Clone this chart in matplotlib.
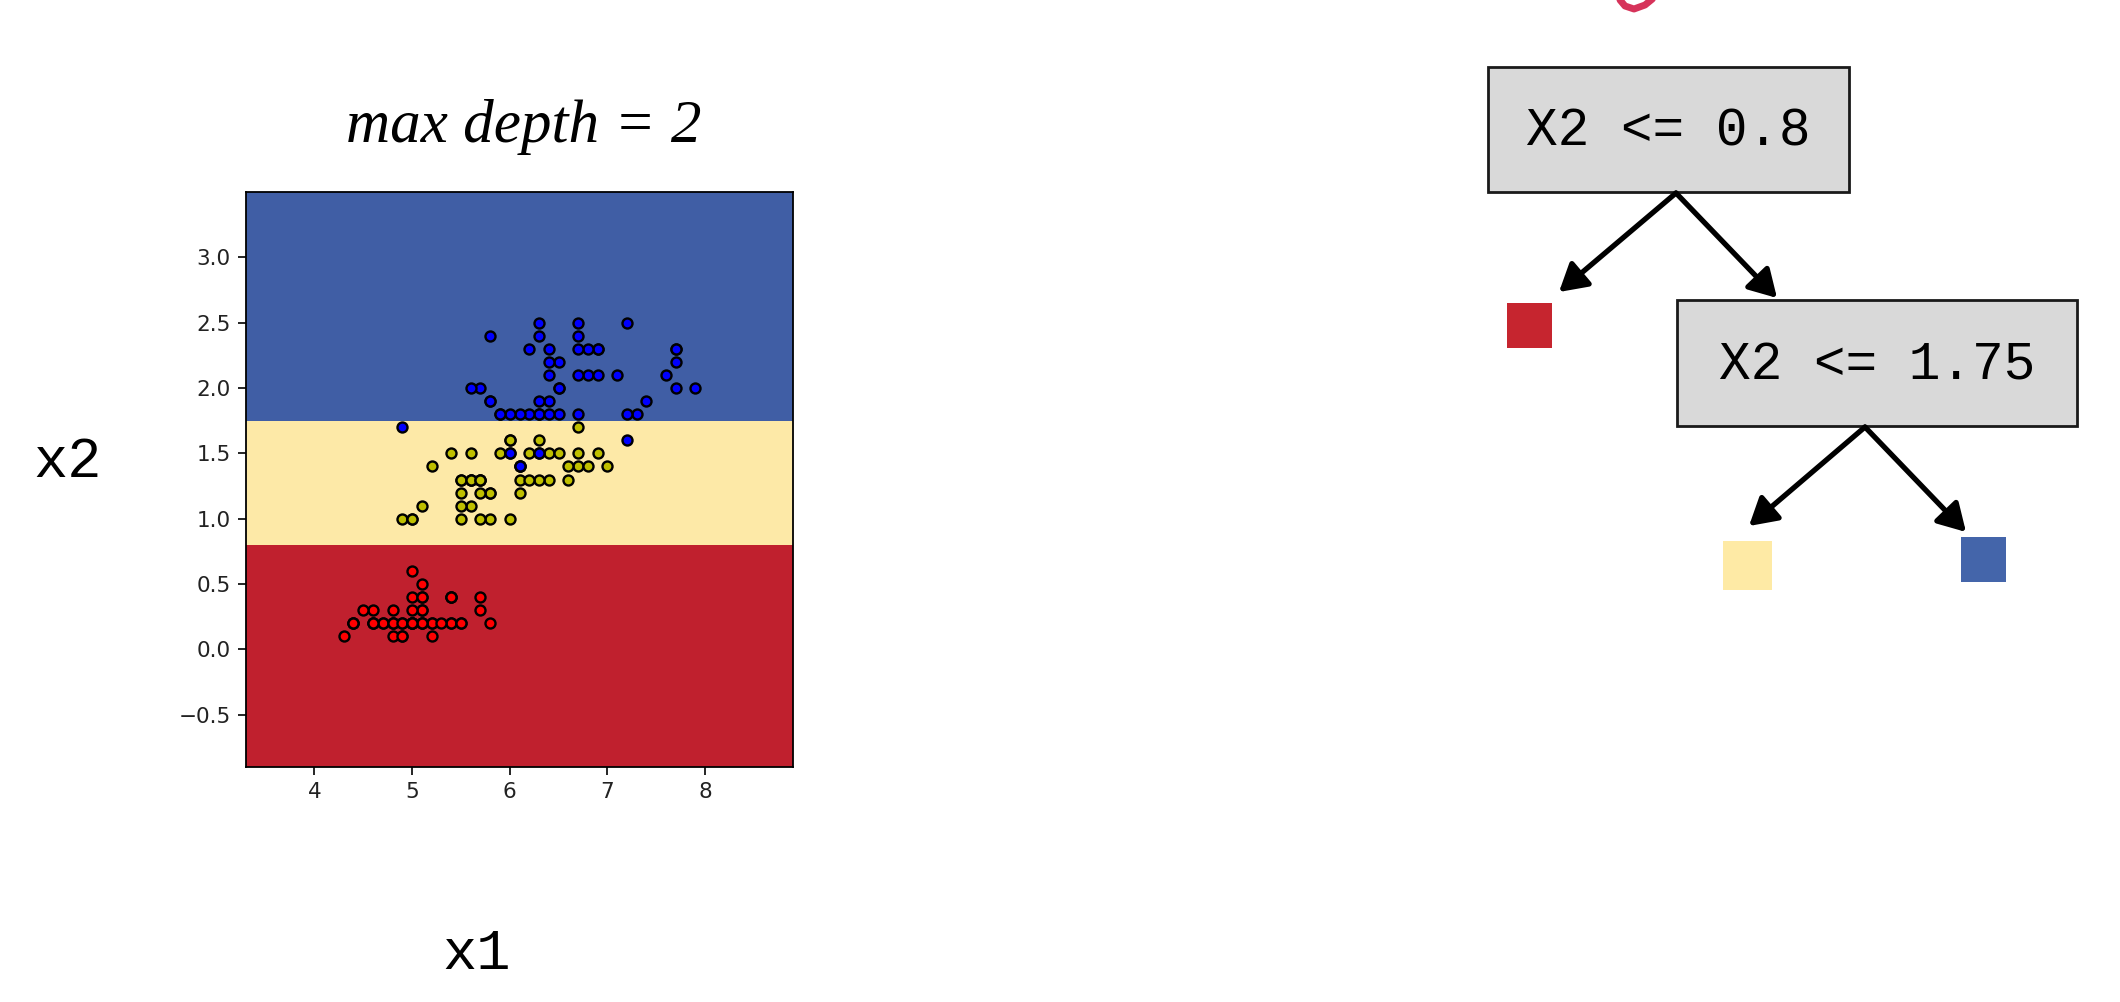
import matplotlib
matplotlib.use("Agg")
import matplotlib.pyplot as plt
import numpy as np
from matplotlib.patches import Rectangle, FancyArrowPatch
from matplotlib.lines import Line2D

# iris: sepal length (x1) vs petal width (x2)
setosa_x1 = [5.1, 4.9, 4.7, 4.6, 5.0, 5.4, 4.6, 5.0, 4.4, 4.9, 5.4, 4.8, 4.8, 4.3, 5.8, 5.7, 5.4,
             5.1, 5.7, 5.1, 5.4, 5.1, 4.6, 5.1, 4.8, 5.0, 5.0, 5.2, 5.2, 4.7, 4.8, 5.4, 5.2, 5.5,
             4.9, 5.0, 5.5, 4.9, 4.4, 5.1, 5.0, 4.5, 4.4, 5.0, 5.1, 4.8, 5.1, 4.6, 5.3, 5.0]
setosa_x2 = [0.2, 0.2, 0.2, 0.2, 0.2, 0.4, 0.3, 0.2, 0.2, 0.1, 0.2, 0.2, 0.1, 0.1, 0.2, 0.4, 0.4,
             0.3, 0.3, 0.3, 0.2, 0.4, 0.2, 0.5, 0.2, 0.2, 0.4, 0.2, 0.2, 0.2, 0.2, 0.4, 0.1, 0.2,
             0.2, 0.2, 0.2, 0.1, 0.2, 0.2, 0.3, 0.3, 0.2, 0.6, 0.4, 0.3, 0.2, 0.2, 0.2, 0.2]
versicolor_x1 = [7.0, 6.4, 6.9, 5.5, 6.5, 5.7, 6.3, 4.9, 6.6, 5.2, 5.0, 5.9, 6.0, 6.1, 5.6, 6.7, 5.6,
                 5.8, 6.2, 5.6, 5.9, 6.1, 6.3, 6.1, 6.4, 6.6, 6.8, 6.7, 6.0, 5.7, 5.5, 5.5, 5.8, 6.0,
                 5.4, 6.0, 6.7, 6.3, 5.6, 5.5, 5.5, 6.1, 5.8, 5.0, 5.6, 5.7, 5.7, 6.2, 5.1, 5.7]
versicolor_x2 = [1.4, 1.5, 1.5, 1.3, 1.5, 1.3, 1.6, 1.0, 1.3, 1.4, 1.0, 1.5, 1.0, 1.4, 1.3, 1.4, 1.5,
                 1.0, 1.5, 1.1, 1.8, 1.3, 1.5, 1.2, 1.3, 1.4, 1.4, 1.7, 1.5, 1.0, 1.1, 1.0, 1.2, 1.6,
                 1.5, 1.6, 1.5, 1.3, 1.3, 1.3, 1.2, 1.4, 1.2, 1.0, 1.3, 1.2, 1.3, 1.3, 1.1, 1.3]
virginica_x1 = [6.3, 5.8, 7.1, 6.3, 6.5, 7.6, 4.9, 7.3, 6.7, 7.2, 6.5, 6.4, 6.8, 5.7, 5.8, 6.4, 6.5,
                7.7, 7.7, 6.0, 6.9, 5.6, 7.7, 6.3, 6.7, 7.2, 6.2, 6.1, 6.4, 7.2, 7.4, 7.9, 6.4, 6.3,
                6.1, 7.7, 6.3, 6.4, 6.0, 6.9, 6.7, 6.9, 5.8, 6.8, 6.7, 6.7, 6.3, 6.5, 6.2, 5.9]
virginica_x2 = [2.5, 1.9, 2.1, 1.8, 2.2, 2.1, 1.7, 1.8, 1.8, 2.5, 2.0, 1.9, 2.1, 2.0, 2.4, 2.3, 1.8,
                2.2, 2.3, 1.5, 2.3, 2.0, 2.0, 1.8, 2.1, 1.8, 1.8, 1.8, 2.1, 1.6, 1.9, 2.0, 2.2, 1.5,
                1.4, 2.3, 2.4, 1.8, 1.8, 2.1, 2.4, 2.3, 1.9, 2.3, 2.5, 2.3, 1.9, 2.0, 2.3, 1.8]

thresholds = [0.8, 1.75]
split_labels = ["X2 <= 0.8", "X2 <= 1.75"]
region_colors = ["#C0202E", "#FDE9A7", "#405EA5"]
leaf_colors = ["#C6252F", "#FEEAA5", "#4465AA"]
point_colors = ["r", "y", "b"]

W, H = 2120, 1002
fig = plt.figure(figsize=(W / 100, H / 100), dpi=100)
fig.patch.set_facecolor("white")

# --- decision regions + scatter ---
all_x1 = setosa_x1 + versicolor_x1 + virginica_x1
all_x2 = setosa_x2 + versicolor_x2 + virginica_x2
xlim = (min(all_x1) - 1, max(all_x1) + 1)
ylim = (min(all_x2) - 1, max(all_x2) + 1)

ax = fig.add_axes([246 / W, (H - 767) / H, (793 - 246) / W, (767 - 192) / H])
edges = [ylim[0]] + thresholds + [ylim[1]]
for k in range(3):
    ax.axhspan(edges[k], edges[k + 1], color=region_colors[k], lw=0, zorder=0)

groups = [(setosa_x1, setosa_x2), (versicolor_x1, versicolor_x2), (virginica_x1, virginica_x2)]
for (gx, gy), c in zip(groups, point_colors):
    ax.scatter(gx, gy, s=52, c=c, edgecolors="black", linewidths=1.7, zorder=3)

ax.set_xlim(xlim)
ax.set_ylim(ylim)
ax.set_xticks([4, 5, 6, 7, 8])
ax.set_yticks([-0.5, 0.0, 0.5, 1.0, 1.5, 2.0, 2.5, 3.0])
ax.tick_params(length=5.6, width=1.2, pad=5.5, labelsize=15.5, labelcolor="#222222")
for sp in ax.spines.values():
    sp.set_linewidth(1.3)

# --- overlay in pixel coordinates for labels and the tree ---
ov = fig.add_axes([0, 0, 1, 1], zorder=5)
ov.set_xlim(0, W)
ov.set_ylim(H, 0)
ov.axis("off")

ov.text(524, 142, "max depth = 2", family="Liberation Serif", style="italic",
        fontsize=44, ha="center", va="baseline")
ov.text(68, 477, "x2", family="Liberation Mono", fontsize=41, ha="center", va="baseline")
ov.text(477, 969, "x1", family="Liberation Mono", fontsize=41, ha="center", va="baseline")

# tree nodes: (left, top, right, bottom, baseline)
nodes = [(1488, 67, 1849, 192, 145), (1677, 300, 2077, 426, 379)]
for (l, t, r, b, bl), lab in zip(nodes, split_labels):
    ov.add_patch(Rectangle((l, t), r - l, b - t, facecolor="#D9D9D9", edgecolor="#1a1a1a", lw=2))
    ov.text((l + r) / 2, bl, lab, family="Liberation Mono", fontsize=38, ha="center", va="baseline")

arrows = [((1676, 193), (1559, 292)), ((1676, 193), (1777, 298)),
          ((1865, 427), (1749, 526)), ((1865, 427), (1966, 532))]
for p0, p1 in arrows:
    ov.add_patch(FancyArrowPatch(p0, p1, arrowstyle="-|>,head_length=0.55,head_width=0.32",
                                 mutation_scale=30, lw=3.8, color="black",
                                 shrinkA=0, shrinkB=0))

# leaves: (left, top, size)
leaves = [(1507, 303, 45), (1723, 541, 49), (1961, 537, 45)]
for (l, t, s), c in zip(leaves, leaf_colors):
    ov.add_patch(Rectangle((l, t), s, s, facecolor=c, edgecolor="none"))

# cut-off red stroke at the top edge
ov.add_line(Line2D([1620, 1625, 1634, 1645, 1656], [0, 6, 9, 5, -4],
                   color="#D6335A", lw=5, solid_capstyle="round"))

fig.savefig("out.png", dpi=100)
